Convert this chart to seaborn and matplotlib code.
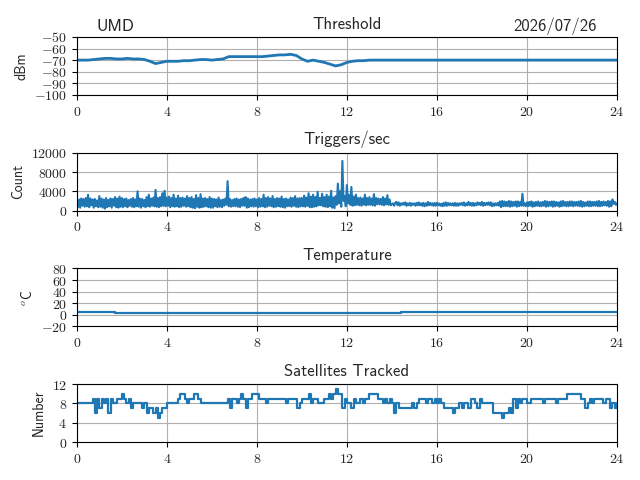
import numpy as np
import pandas as pd
import matplotlib
matplotlib.use('Agg')
import matplotlib.pyplot as plt
from matplotlib.ticker import FuncFormatter, MultipleLocator
import seaborn as sns

# threshold, every 15 min
thr_db = [-70, -70, -70, -69.5,
          -69, -68.5, -68.5, -69,
          -69, -68.5, -69, -69,
          -69.5, -71, -73, -72,
          -71, -71, -71, -70.5,
          -70.5, -70, -69.5, -69.5,
          -70, -69.5, -69, -67,
          -67, -67, -67, -67,
          -67, -67, -66.5, -66,
          -65.5, -65.5, -65, -66,
          -69, -71, -70, -71,
          -72, -73.5, -75, -74,
          -72, -71, -70.5, -70.5,
          -70, -70, -70, -70, -70, -70, -70, -70, -70, -70, -70,
          -70, -70, -70, -70, -70, -70, -70, -70, -70, -70, -70,
          -70, -70, -70, -70, -70, -70, -70, -70, -70, -70, -70,
          -70, -70, -70, -70, -70, -70, -70, -70, -70, -70, -70,
          -70]
thr_t = [i * 0.25 for i in range(len(thr_db))]

# triggers per second, every 3 min (one row per hour)
trig = [1500, 700, 2300, 600, 2500, 1000, 2400, 800, 2600, 900, 3300, 700, 2500, 1100, 2300, 600, 2400, 900, 2100, 700,
        3000, 800, 2500, 600, 2300, 400, 2600, 700, 2200, 900, 2500, 600, 2400, 1000, 2800, 700, 2500, 600, 2900, 800,
        2600, 700, 2400, 900, 2500, 700, 2200, 1000, 2400, 800, 2600, 700, 2300, 900, 4000, 800, 2500, 600, 2400, 900,
        2200, 700, 2800, 900, 3300, 800, 2500, 1000, 2700, 900, 4300, 800, 2600, 700, 2800, 900, 3600, 1000, 4100, 900,
        2700, 1000, 2900, 700, 2600, 900, 3300, 800, 2500, 900, 3100, 700, 2600, 800, 2700, 1000, 2500, 800, 3000, 900,
        2600, 700, 2800, 600, 2400, 500, 3200, 800, 2600, 600, 3400, 700, 2500, 800, 2600, 900, 2400, 700, 2800, 600,
        2500, 600, 2400, 900, 2300, 700, 2700, 800, 2200, 700, 2300, 1000, 2500, 1200, 6100, 900, 2400, 800, 2200, 900,
        2400, 900, 2500, 800, 2300, 700, 2400, 1000, 2600, 1000, 2800, 600, 2500, 700, 2300, 900, 2400, 800, 2500, 900,
        2300, 700, 2600, 800, 2400, 900, 3300, 700, 2600, 800, 2800, 1000, 2500, 900, 3000, 700, 2400, 800, 2600, 900,
        2500, 800, 2900, 700, 2400, 600, 2500, 900, 2300, 900, 2700, 800, 2600, 1000, 3000, 800, 2500, 700, 2600, 900,
        2600, 900, 3100, 800, 2700, 1000, 3600, 700, 2900, 700, 3300, 800, 2800, 900, 3900, 1100, 2600, 1100, 3500, 900,
        2800, 800, 3300, 700, 2900, 900, 4100, 600, 2700, 500, 3000, 1200, 5600, 1500, 4000, 800, 10300, 2000, 3000, 900,
        5300, 1500, 3200, 1200, 4900, 1000, 2900, 1100, 3300, 1200, 2600, 1100, 2700, 1000, 2500, 1200, 3300, 1100, 2600, 1200,
        2800, 1200, 2500, 1100, 3400, 1000, 2600, 1300, 2500, 1300, 2400, 1200, 2800, 1100, 2500, 1300, 3200, 1200, 2300, 1100,
        1300, 1500, 1000, 1600, 1800, 1100, 1700, 1000, 1500, 1200, 1600, 1200, 1700, 1000, 1500, 1100, 1600, 1000, 1500, 1200,
        1500, 1000, 1600, 1100, 1700, 1100, 1500, 1000, 1600, 900, 1500, 1000, 1800, 1100, 1600, 1100, 1500, 1000, 1600, 1000,
        1600, 1100, 1500, 1000, 1400, 900, 1600, 1000, 1700, 1000, 1600, 1100, 1500, 1100, 1500, 1000, 1600, 1000, 1500, 1000,
        1500, 1200, 1600, 1100, 1700, 1000, 1500, 1100, 1800, 1100, 1600, 1000, 1600, 1000, 1500, 1100, 1700, 1200, 1600, 1100,
        1800, 1000, 1600, 1100, 1600, 1200, 1700, 1100, 1700, 900, 1500, 1000, 1500, 1100, 1600, 1000, 1900, 700, 2000, 900,
        1900, 900, 1800, 900, 2000, 800, 1900, 900, 1800, 1000, 1900, 800, 1900, 900, 1800, 1000, 3500, 1000, 1500, 900,
        1700, 900, 1800, 1000, 1900, 800, 1700, 900, 1800, 1000, 1900, 900, 1700, 900, 1800, 1000, 2000, 800, 1900, 900,
        1800, 1000, 1900, 800, 1900, 900, 1800, 1000, 1700, 800, 1900, 900, 2000, 1000, 1800, 900, 1800, 900, 1900, 1000,
        1900, 900, 1800, 1000, 1800, 1000, 1900, 900, 2000, 800, 1800, 900, 1700, 1000, 1900, 900, 1900, 900, 1800, 1000,
        1800, 1000, 1900, 900, 2000, 900, 1800, 1000, 1900, 1100, 1800, 1000, 2000, 800, 1900, 900, 2300, 1400, 1800, 1200,
        1500]
trig_t = [i * 0.05 for i in range(len(trig))]

# temperature changes
temp_t = [0, 1.7, 14.4, 21.2, 24]
temp_c = [5, 3.5, 5, 4.5, 4.5]

# satellites tracked, every 6 min
sats = [8, 8, 8, 8, 8, 8, 8, 9, 6, 9,
        7, 9, 8, 9, 6, 9, 8, 8, 9, 9,
        10, 9, 8, 9, 7, 8, 8, 8, 8, 7,
        8, 6, 7, 7, 6, 7, 5, 6, 7, 7,
        8, 8, 8, 8, 8, 9, 10, 10, 9, 8,
        9, 9, 10, 10, 9, 8, 8, 8, 8, 8,
        8, 8, 8, 8, 8, 8, 8, 9, 7, 9,
        9, 8, 9, 10, 9, 7, 9, 9, 10, 10,
        10, 9, 9, 9, 8, 9, 9, 9, 9, 9,
        9, 9, 9, 8, 9, 9, 9, 9, 7, 8,
        9, 9, 9, 10, 8, 9, 9, 8, 8, 8,
        9, 9, 10, 9, 10, 11, 10, 10, 7, 9,
        8, 8, 7, 9, 8, 8, 9, 8, 9, 9,
        10, 10, 10, 10, 9, 9, 8, 9, 8, 9,
        8, 6, 8, 7, 7, 7, 7, 7, 7, 8,
        7, 8, 9, 9, 9, 8, 9, 9, 8, 9,
        8, 9, 8, 7, 7, 7, 7, 6, 7, 7,
        8, 7, 8, 8, 7, 9, 9, 8, 7, 9,
        8, 8, 8, 8, 8, 6, 6, 6, 6, 5,
        6, 6, 7, 6, 9, 7, 9, 8, 9, 9,
        8, 8, 9, 9, 9, 9, 9, 8, 9, 9,
        9, 9, 9, 8, 9, 9, 9, 9, 10, 10,
        10, 10, 10, 10, 9, 9, 7, 8, 9, 8,
        9, 9, 9, 9, 8, 9, 9, 7, 8, 7,
        8]
sat_t = [i * 0.1 for i in range(len(sats))]

sns.set_style('ticks')
plt.rcParams['mathtext.fontset'] = 'cm'
sf = 'cmss10'
blue = '#1f77b4'

fig, axes = plt.subplots(4, 1, figsize=(6.4, 4.8), dpi=100)
fig.subplots_adjust(left=0.120, right=0.964, top=0.923, bottom=0.079, hspace=1.0)

mfmt = FuncFormatter(lambda v, p: '$%g$' % v)

panels = [
    (thr_t, thr_db, 'Threshold', 'dBm', (-100, -50), 10, None, 2.0),
    (trig_t, trig, 'Triggers/sec', 'Count', (0, 12000), 4000, None, 1.5),
    (temp_t, temp_c, 'Temperature', r'$^o$C', (-20, 80), 20, 'steps-post', 1.6),
    (sat_t, sats, 'Satellites Tracked', 'Number', (0, 12), 4, 'steps-post', 1.6),
]

for ax, (x, y, title, ylab, ylim, step, ds, lw) in zip(axes, panels):
    kw = {'drawstyle': ds} if ds else {}
    sns.lineplot(x=x, y=y, ax=ax, color=blue, linewidth=lw, estimator=None, **kw)
    ax.set_xlim(0, 24)
    ax.set_ylim(*ylim)
    ax.xaxis.set_major_locator(MultipleLocator(4))
    ax.yaxis.set_major_locator(MultipleLocator(step))
    ax.xaxis.set_major_formatter(mfmt)
    ax.yaxis.set_major_formatter(mfmt)
    ax.grid(True, color='#b0b0b0', linewidth=0.8)
    ax.set_title(title, family=sf, fontsize=12)
    ax.set_ylabel(ylab, family=sf, fontsize=10)
    ax.tick_params(labelsize=10, direction='out', length=3.5, color='black')
    for s in ax.spines.values():
        s.set_color('black')
        s.set_linewidth(0.8)

axes[0].text(0.037, 1.0 + 6 / 58, 'UMD', transform=axes[0].transAxes,
             family=sf, fontsize=12, ha='left', va='baseline')
axes[0].text(0.963, 1.0 + 6 / 58, '2026/07/26', transform=axes[0].transAxes,
             family=sf, fontsize=12, ha='right', va='baseline')

fig.savefig('out.png', dpi=100)
